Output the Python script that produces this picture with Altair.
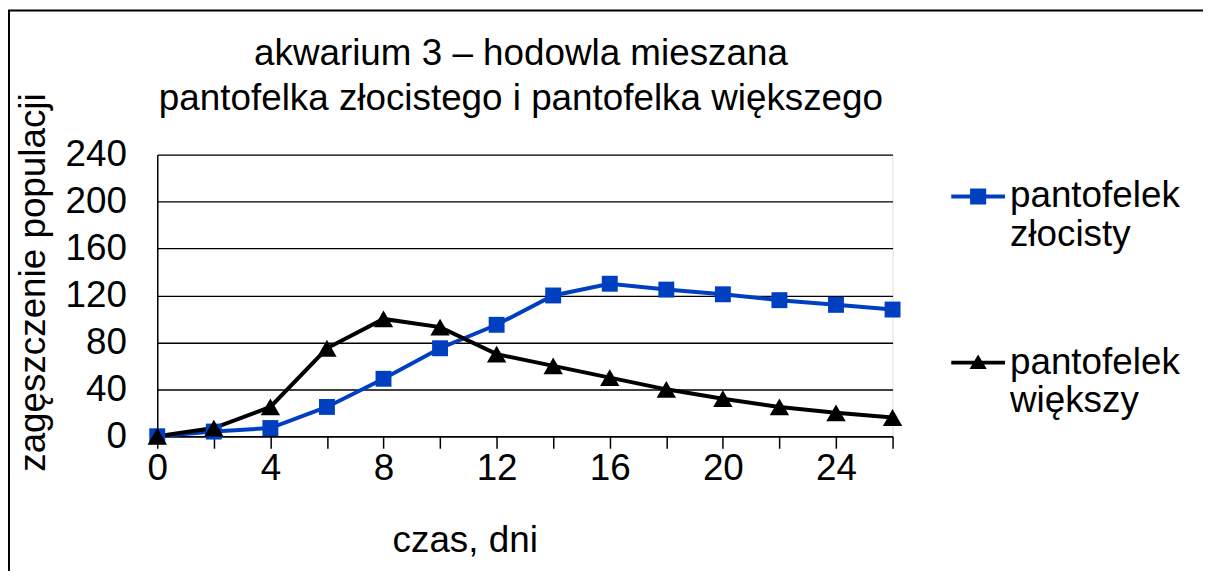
import altair as alt
import pandas as pd

# ---- data ----
dni = [0, 2, 4, 6, 8, 10, 12, 14, 16, 18, 20, 22, 24, 26]
zlocisty = [0, 4, 7, 25, 49, 75, 95, 120, 130, 125, 121, 116, 112, 108]
wiekszy = [0, 7, 25, 75, 100, 93, 70, 60, 50, 40, 32, 25, 20, 16]
serie = ["pantofelek złocisty", "pantofelek większy"]
kolory = ["#0040C0", "#000000"]
x_ticks = list(range(0, 27, 2))
y_ticks = [0, 40, 80, 120, 160, 200, 240]
tytul = ["akwarium 3 – hodowla mieszana", "pantofelka złocistego i pantofelka większego"]

df = pd.DataFrame({
    "dzien": dni + dni,
    "wartosc": zlocisty + wiekszy,
    "seria": [serie[0]] * len(dni) + [serie[1]] * len(dni),
})

FONT = "Liberation Sans"
FS = 37

x_enc = alt.X(
    "dzien:Q",
    scale=alt.Scale(domain=[0, 26], nice=False, zero=False),
    axis=alt.Axis(
        values=x_ticks,
        labelExpr="datum.value % 4 == 0 ? datum.label : ''",
        title="czas, dni",
        grid=False,
        tickSize=12,
        tickWidth=1.5,
        tickColor="#000",
        domainColor="#000",
        domainWidth=1.5,
        labelPadding=2,
        labelFontSize=FS,
        labelFont=FONT,
        labelColor="#000",
        labelFlush=False,
        labelOverlap=False,
        titleFont=FONT,
        titleFontSize=FS,
        titleFontWeight="normal",
        titleColor="#000",
        titleX=309,
        titleY=116,
        titleBaseline="alphabetic",
        titleAlign="center",
    ),
)
y_enc = alt.Y(
    "wartosc:Q",
    scale=alt.Scale(domain=[0, 240], nice=False),
    axis=alt.Axis(
        values=y_ticks,
        title="zagęszczenie populacji",
        grid=True,
        gridColor="#000",
        gridWidth=1.3,
        ticks=False,
        tickSize=0,
        domainColor="#000",
        domainWidth=1.5,
        labelPadding=31,
        labelFontSize=FS,
        labelFont=FONT,
        labelColor="#000",
        labelFlush=False,
        labelOverlap=False,
        titleFont=FONT,
        titleFontSize=FS,
        titleFontWeight="normal",
        titleColor="#000",
        titleX=-113,
        titleY=128,
        titleAngle=270,
        titleBaseline="alphabetic",
        titleAlign="center",
    ),
)
color_scale = alt.Scale(domain=serie, range=kolory)

base = alt.Chart(df)

# outer chart-area frame (only the top and left edges fall inside the picture)
frame = alt.Chart(pd.DataFrame({"a": [0]})).mark_rect(
    fill="transparent", stroke="#000", strokeWidth=2
).encode(
    x=alt.value(-149), x2=alt.value(1150), y=alt.value(-145), y2=alt.value(440)
)

line_z = base.transform_filter(alt.datum.seria == serie[0]).mark_line(
    strokeWidth=4, color=kolory[0]
).encode(x=x_enc, y=y_enc)
line_w = base.transform_filter(alt.datum.seria == serie[1]).mark_line(
    strokeWidth=4, color=kolory[1]
).encode(x=x_enc, y=y_enc)

squares = base.transform_filter(alt.datum.seria == serie[0]).mark_point(
    shape="square", filled=True, size=256, opacity=1, color=kolory[0]
).encode(x=x_enc, y=y_enc)

triangles = base.transform_filter(alt.datum.seria == serie[1]).mark_point(
    shape="triangle-up", filled=True, size=380, opacity=1, color=kolory[1]
).encode(x=x_enc, y=y_enc)

sq_path = "M-1,-0.074H1V0.074H-1Z M-0.3,-0.3H0.3V0.3H-0.3Z"
tri_path = "M-1,-0.074H1V0.074H-1Z M-0.32,0.24L0,-0.3L0.32,0.24Z"

leg = alt.Legend(
    title=None,
    orient="none",
    legendX=798,
    legendY=15,
    padding=0,
    symbolSize=2916,
    symbolStrokeWidth=0,
    symbolOpacity=1,
    labelFont=FONT,
    labelFontSize=FS,
    labelColor="#000",
    labelLimit=400,
    labelOffset=5,
    labelBaseline="middle",
    labelExpr="split(datum.label, ' ')",
    rowPadding=83,
)

legend_layer = base.mark_point(filled=True, opacity=0).encode(
    x=x_enc,
    y=y_enc,
    color=alt.Color("seria:N", scale=color_scale, legend=leg),
    shape=alt.Shape("seria:N", scale=alt.Scale(domain=serie, range=[sq_path, tri_path]), legend=leg),
)

chart = alt.layer(frame, line_z, line_w, squares, triangles, legend_layer).properties(
    width=739,
    height=283,
    autosize=alt.AutoSizeParams(type="none"),
    padding={"left": 150, "top": 146, "right": 312, "bottom": 134},
    title=alt.TitleParams(
        text=tytul,
        font=FONT,
        fontSize=FS,
        fontWeight="normal",
        color="#000",
        lineHeight=45,
        anchor="middle",
        frame="group",
        dx=-4,
        offset=-109,
    ),
).configure_view(stroke="#000", strokeWidth=1.5).configure(background="white")

chart.save("out.html", embed_options={"renderer": "svg", "actions": False})
